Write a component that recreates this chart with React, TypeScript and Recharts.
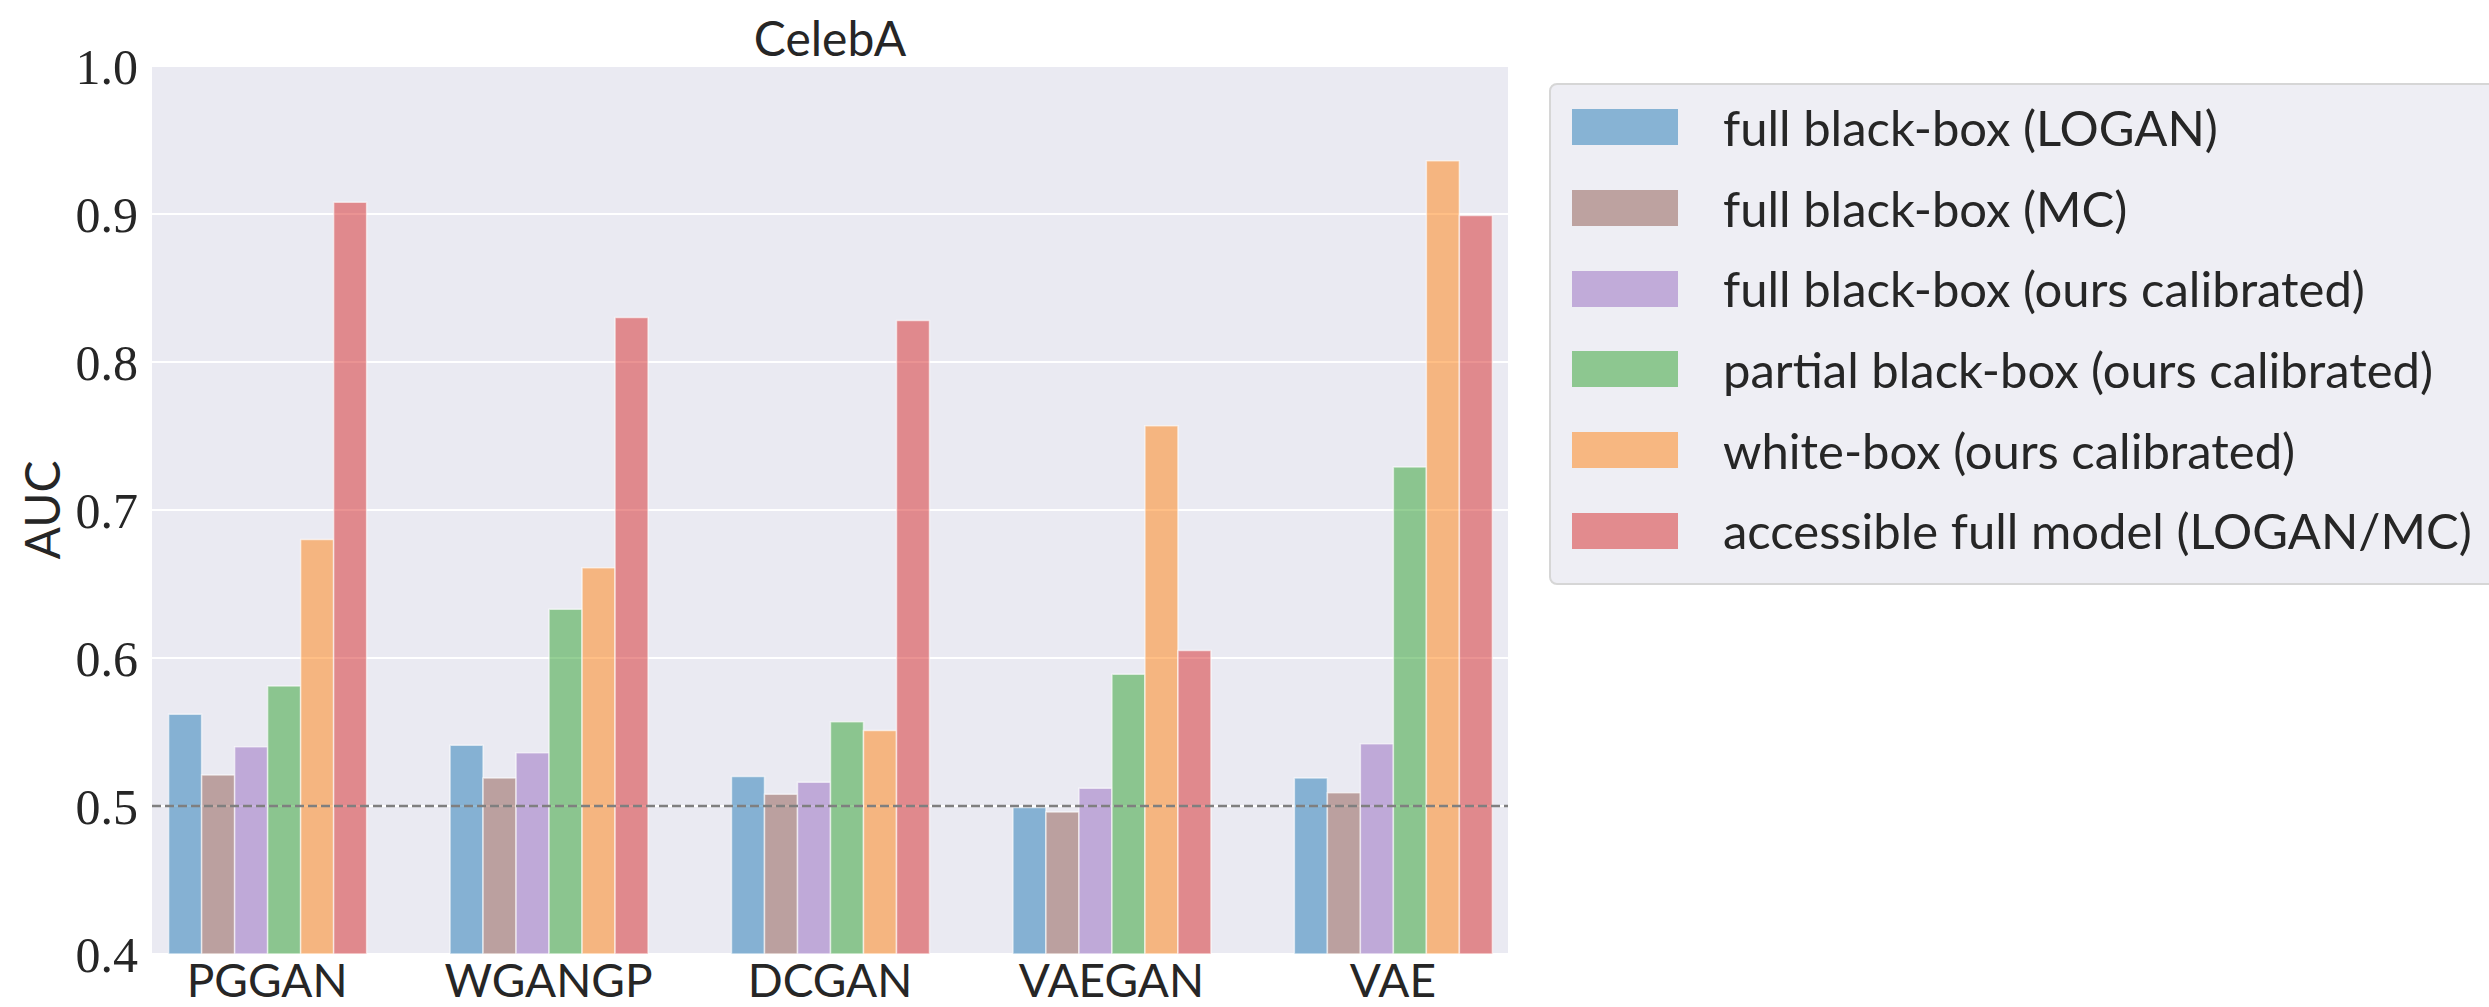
import {
  BarChart,
  Bar,
  XAxis,
  YAxis,
  CartesianGrid,
  ReferenceLine,
  Legend,
} from 'recharts';

const categories = ['PGGAN', 'WGANGP', 'DCGAN', 'VAEGAN', 'VAE'];

const fullBlackBoxLogan = [0.562, 0.541, 0.52, 0.499, 0.519];
const fullBlackBoxMc = [0.521, 0.519, 0.508, 0.496, 0.509];
const fullBlackBoxCal = [0.54, 0.536, 0.516, 0.512, 0.542];
const partialBlackBoxCal = [0.581, 0.633, 0.557, 0.589, 0.729];
const whiteBoxCal = [0.68, 0.661, 0.551, 0.757, 0.936];
const fullModel = [0.908, 0.83, 0.828, 0.605, 0.899];

const yTicks = [0.4, 0.5, 0.6, 0.7, 0.8, 0.9, 1.0];

const series = [
  { key: 'logan', name: 'full black-box (LOGAN)', color: '#1f77b4', values: fullBlackBoxLogan },
  { key: 'mc', name: 'full black-box (MC)', color: '#8c564b', values: fullBlackBoxMc },
  { key: 'bbcal', name: 'full black-box (ours calibrated)', color: '#9467bd', values: fullBlackBoxCal },
  { key: 'pbbcal', name: 'partial black-box (ours calibrated)', color: '#2ca02c', values: partialBlackBoxCal },
  { key: 'wbcal', name: 'white-box (ours calibrated)', color: '#ff7f0e', values: whiteBoxCal },
  { key: 'full', name: 'accessible full model (LOGAN/MC)', color: '#d62728', values: fullModel },
];

const data = categories.map((name, i) => {
  const row: Record<string, string | number> = { name };
  series.forEach((s) => {
    row[s.key] = s.values[i];
  });
  return row;
});

const SANS = 'Lato, "Open Sans", sans-serif';
const SERIF = '"Liberation Serif", "DejaVu Serif", serif';
const TEXT = '#262626';

// legend keeps the series order (recharts would sort it by name)
function LegendBox() {
  return (
    <div
      style={{
        background: '#EEEEF4',
        border: '2px solid #D6D6D6',
        borderRadius: 8,
        width: 980,
        height: 502,
        boxSizing: 'border-box',
        paddingTop: 2,
      }}
    >
      {series.map((s) => (
        <div key={s.key} style={{ display: 'flex', alignItems: 'center', height: 80.7 }}>
          <span
            style={{
              display: 'inline-block',
              width: 106,
              height: 36,
              marginLeft: 21,
              background: s.color,
              opacity: 0.5,
            }}
          />
          <span
            style={{
              marginLeft: 45,
              fontFamily: SANS,
              fontSize: 49,
              color: TEXT,
              lineHeight: 1,
              whiteSpace: 'nowrap',
            }}
          >
            {s.name}
          </span>
        </div>
      ))}
    </div>
  );
}

function AucLabel({ viewBox }: any) {
  const cx = viewBox.x - 11;
  const cy = viewBox.y + viewBox.height / 2;
  return (
    <text
      x={cx}
      y={cy}
      transform={`rotate(-90, ${cx}, ${cy})`}
      textAnchor="middle"
      dominantBaseline="central"
      fontFamily={SANS}
      fontSize={48}
      fill={TEXT}
    >
      AUC
    </text>
  );
}

export default function App() {
  return (
    <div
      style={{
        position: 'absolute',
        left: 0,
        top: 0,
        width: 2489,
        height: 1007,
        overflow: 'hidden',
        background: '#fff',
      }}
    >
      <div
        style={{
          position: 'absolute',
          left: 0,
          top: 14,
          width: 1660,
          textAlign: 'center',
          fontFamily: SANS,
          fontSize: 48,
          lineHeight: '48px',
          color: TEXT,
        }}
      >
        CelebA
      </div>
      <BarChart
        width={2489}
        height={1007}
        data={data}
        margin={{ top: 66, right: 981, bottom: 0, left: 52 }}
        barCategoryGap="15%"
        barGap={0}
      >
        <CartesianGrid fill="#EAEAF2" stroke="#FFFFFF" strokeWidth={2} vertical={false} />
        <XAxis
          dataKey="name"
          height={53}
          axisLine={false}
          tickLine={false}
          tickSize={0}
          tickMargin={10}
          padding={{ left: -25.6, right: -25.6 }}
          tick={{ fontFamily: SANS, fontSize: 46, fill: TEXT }}
          interval={0}
        />
        <YAxis
          width={100}
          type="number"
          domain={[0.4, 1.0]}
          ticks={yTicks}
          axisLine={false}
          tickLine={false}
          tickSize={0}
          tickMargin={14}
          tickFormatter={(v: number) => v.toFixed(1)}
          tick={{ fontFamily: SERIF, fontSize: 50, fill: TEXT }}
          label={{ content: AucLabel }}
        />
        {series.map((s) => (
          <Bar
            key={s.key}
            dataKey={s.key}
            name={s.name}
            fill={s.color}
            fillOpacity={0.5}
            stroke="#FFFFFF"
            strokeOpacity={0.6}
            strokeWidth={1.5}
            isAnimationActive={false}
          />
        ))}
        <ReferenceLine y={0.5} stroke="#7F7F7F" strokeWidth={2.5} strokeDasharray="9 4" />
        <Legend
          layout="vertical"
          align="center"
          verticalAlign="middle"
          wrapperStyle={{ left: 1549, top: 83, width: 980, height: 502 }}
          content={() => <LegendBox />}
        />
      </BarChart>
    </div>
  );
}
